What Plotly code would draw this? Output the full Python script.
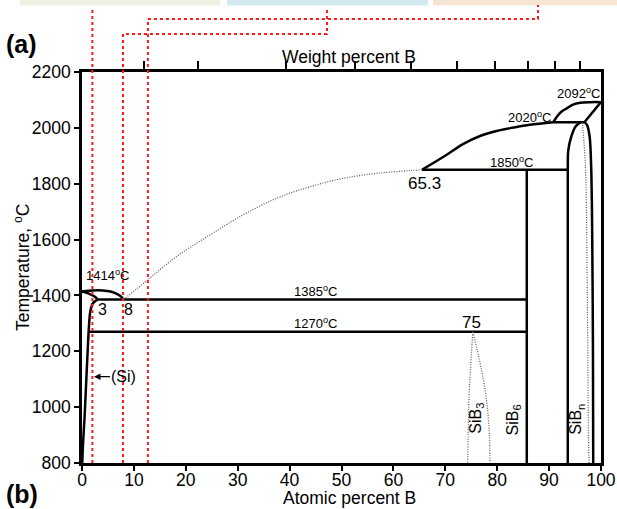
import plotly.graph_objects as go

# ---------------- data (atomic % B, temperature in °C) ----------------
x_ticks = [0, 10, 20, 30, 40, 50, 60, 70, 80, 90, 100]
y_ticks = [800, 1000, 1200, 1400, 1600, 1800, 2000, 2200]
wt_ticks = [5, 10, 20, 30, 40, 50, 60, 70, 80, 90]   # weight percent B
M_B, M_SI = 10.811, 28.0855

# solid phase boundaries
si_liq_x = [0, 2, 4, 5.5, 6.8, 7.6, 8]
si_liq_t = [1414, 1418, 1418, 1414, 1405, 1395, 1385]
si_sol_x = [0, 1.5, 2.5, 3]
si_sol_t = [1414, 1405, 1395, 1385]
si_solvus_x = [3, 2.1, 1.6, 1.3, 1.1, 0.8, 0.5, 0.2, 0.05]
si_solvus_t = [1385, 1372, 1342, 1276, 1205, 1086, 966, 870, 800]
eut_x, eut_t = [3, 85.7], [1385, 1385]
eutd_x, eutd_t = [1.2, 85.7], [1270, 1270]
sib6_x, sib6_t = [85.7, 85.7], [800, 1850]
per_x, per_t = [65.5, 93.6], [1850, 1850]
liq2_x = [65.5, 70.2, 73.4, 76.7, 79.9, 83.1, 86.3, 90.8]
liq2_t = [1850, 1903, 1942, 1971, 1989, 2001, 2011, 2020]
sibn_left_x = [93.6, 93.6, 93.7, 94.3, 95.1, 96.1]
sibn_left_t = [800, 1850, 1920, 1970, 2005, 2020]
p2020_x, p2020_t = [90.8, 96.8], [2020, 2020]
bsol_x, bsol_t = [96.8, 100], [2020, 2092]
dome_x = [90.8, 91.5, 92.3, 93.4, 94.6, 96, 98, 100]
dome_t = [2020, 2040, 2057, 2070, 2083, 2090, 2092, 2092]
sibn_right_x = [96.8, 97.3, 97.8, 98.1, 98.3, 98.45, 98.5]
sibn_right_t = [2020, 2011, 1970, 1864, 1629, 1200, 800]

# dotted (metastable / uncertain) boundaries
meta_x = [8, 13, 18.2, 24.6, 31, 37.5, 43.9, 50.3, 56.7, 63.2, 65.5]
meta_t = [1385, 1461, 1539, 1616, 1688, 1748, 1789, 1819, 1837, 1847, 1850]
sibn_dot_x = [96.4, 97.0, 97.3, 97.6, 97.7]
sibn_dot_t = [2020, 1864, 1511, 887, 800]
sib3_l_x = [75.3, 74.9, 74.6, 74.4, 74.3]
sib3_l_t = [1270, 1150, 1050, 900, 800]
sib3_r_x = [75.3, 76.2, 76.9, 77.6, 78.1, 78.5, 78.6]
sib3_r_t = [1270, 1200, 1140, 1070, 1000, 900, 800]

# red marker lines (atomic % B)
red_x = [2.0, 7.9, 12.7]

FONT = "Liberation Sans, Arial, sans-serif"


def wt_to_at(w):
    nb = w / M_B
    ns = (100 - w) / M_SI
    return 100 * nb / (nb + ns)


fig = go.Figure()

solid = [
    (si_liq_x, si_liq_t), (si_sol_x, si_sol_t), (si_solvus_x, si_solvus_t),
    (eut_x, eut_t), (eutd_x, eutd_t), (sib6_x, sib6_t), (per_x, per_t),
    (liq2_x, liq2_t), (sibn_left_x, sibn_left_t), (p2020_x, p2020_t),
    (bsol_x, bsol_t), (dome_x, dome_t), (sibn_right_x, sibn_right_t),
]
for xs, ts in solid:
    fig.add_trace(go.Scatter(x=xs, y=ts, mode="lines", line_shape="spline",
                             line=dict(color="black", width=2.5),
                             showlegend=False, hoverinfo="skip"))

dotted = [(meta_x, meta_t), (sibn_dot_x, sibn_dot_t),
          (sib3_l_x, sib3_l_t), (sib3_r_x, sib3_r_t)]
for xs, ts in dotted:
    fig.add_trace(go.Scatter(x=xs, y=ts, mode="lines", line_shape="spline",
                             line=dict(color="#555555", width=1.2, dash="1px,1.5px"),
                             showlegend=False, hoverinfo="skip"))

# invisible trace for the top (weight percent) axis
fig.add_trace(go.Scatter(x=[0, 100], y=[800, 800], xaxis="x2", mode="lines",
                         line=dict(width=0), showlegend=False, hoverinfo="skip"))

# ---------------- layout ----------------
W, H = 617, 509
ML, MR, MT, MB = 82, 16, 72, 46
PW, PH = W - ML - MR, H - MT - MB


def px_x(px):
    return (px - ML) / PW


def px_y(py):
    return (H - MB - py) / PH


shapes = []
# coloured strips at the very top (bottoms of images above)
strips = [(20, 220, "#f0f0e3"), (227, 428, "#d3e8ef"), (433, 630, "#f4e5d4")]
for a, b, c in strips:
    shapes.append(dict(type="rect", xref="paper", yref="paper",
                       x0=px_x(a), x1=px_x(b), y0=px_y(5.5), y1=px_y(-2),
                       fillcolor=c, line=dict(width=0), layer="below"))

red = dict(color="#ff1a1a", width=2, dash="dot")
y_bot = 0.0
shapes.append(dict(type="path", xref="paper", yref="paper",
                   path=f"M {red_x[0]/100},{y_bot} L {red_x[0]/100},{px_y(7)}",
                   line=red))
shapes.append(dict(type="path", xref="paper", yref="paper",
                   path=(f"M {red_x[1]/100},{y_bot} L {red_x[1]/100},{px_y(34)} "
                         f"L {px_x(327)},{px_y(34)} L {px_x(327)},{px_y(7)}"),
                   line=red))
shapes.append(dict(type="path", xref="paper", yref="paper",
                   path=(f"M {red_x[2]/100},{y_bot} L {red_x[2]/100},{px_y(19)} "
                         f"L {px_x(538)},{px_y(19)} L {px_x(538)},{px_y(5)}"),
                   line=red))

ann = []


def txt(x, y, s, size=13, **kw):
    d = dict(x=x, y=y, text=s, showarrow=False, xanchor="center",
             yanchor="middle", font=dict(family=FONT, size=size, color="black"))
    d.update(kw)
    ann.append(d)


txt(0.3, 1473, "1414<sup>o</sup>C", 13, xanchor="left")
txt(3.9, 1348, "3", 16)
txt(8.9, 1348, "8", 16)
txt(45.0, 1415, "1385<sup>o</sup>C", 13)
txt(45.0, 1300, "1270<sup>o</sup>C", 13)
txt(75.1, 1302, "75", 17)
txt(65.9, 1799, "65.3", 17)
txt(82.8, 1879, "1850<sup>o</sup>C", 13)
txt(86.3, 2040, "2020<sup>o</sup>C", 13)
txt(95.6, 2124, "2092<sup>o</sup>C", 13)
txt(76.0, 960, "SiB<sub>3</sub>", 16, textangle=-90)
txt(83.2, 955, "SiB<sub>6</sub>", 16, textangle=-90)
txt(95.4, 955, "SiB<sub>n</sub>", 16, textangle=-90)
ann.append(dict(x=2.3, y=1109, xref="x", yref="y", text="(Si)",
                showarrow=True, ax=30, ay=0, arrowhead=2, arrowsize=1,
                arrowwidth=1.3, arrowcolor="black",
                font=dict(family=FONT, size=16, color="black")))

# titles & panel labels
paper = dict(xref="paper", yref="paper", showarrow=False, yanchor="middle")
ann.append(dict(text="Weight percent B", x=px_x(349), y=px_y(57), xanchor="center",
                font=dict(family=FONT, size=17.5, color="black"), **paper))
ann.append(dict(text="Atomic percent B", x=px_x(349), y=px_y(498), xanchor="center",
                font=dict(family=FONT, size=17.5, color="black"), **paper))
ann.append(dict(text="Temperature, <sup>o</sup>C", x=px_x(22), y=px_y(268),
                xanchor="center", textangle=-90,
                font=dict(family=FONT, size=17.5, color="black"), **paper))
ann.append(dict(text="<b>(a)</b>", x=px_x(4), y=px_y(44), xanchor="left",
                font=dict(family=FONT, size=25, color="black"), **paper))
ann.append(dict(text="<b>(b)</b>", x=px_x(4), y=px_y(494), xanchor="left",
                font=dict(family=FONT, size=25, color="black"), **paper))

fig.update_layout(
    width=W, height=H,
    margin=dict(l=ML, r=MR, t=MT, b=MB, autoexpand=False),
    paper_bgcolor="white", plot_bgcolor="white",
    font=dict(family=FONT, size=17, color="black"),
    shapes=shapes, annotations=ann,
    xaxis=dict(range=[0, 100], tickvals=x_ticks, ticks="outside", ticklen=5,
               tickwidth=1.5, tickcolor="black", showline=True, linewidth=2.5,
               linecolor="black", showgrid=False, zeroline=False,
               ticklabelstandoff=-6, automargin=False,
               tickfont=dict(family=FONT, size=17.5)),
    xaxis2=dict(range=[0, 100], overlaying="x", side="top",
                tickvals=[wt_to_at(w) for w in wt_ticks],
                showticklabels=False, ticks="outside", ticklen=8,
                tickwidth=1.8, tickcolor="black", showline=True, linewidth=2.5,
                linecolor="black", showgrid=False, zeroline=False,
                automargin=False),
    yaxis=dict(range=[800, 2200], tickvals=y_ticks, ticks="outside", ticklen=5,
               tickwidth=1.5, tickcolor="black", showline=True, linewidth=2.5,
               linecolor="black", mirror=True, showgrid=False, zeroline=False,
               automargin=False, tickfont=dict(family=FONT, size=17.5)),
)

fig.write_html("out.html", config={"displayModeBar": False},
               post_script="document.body.style.margin='0';"
                           "document.body.style.overflow='hidden';")
